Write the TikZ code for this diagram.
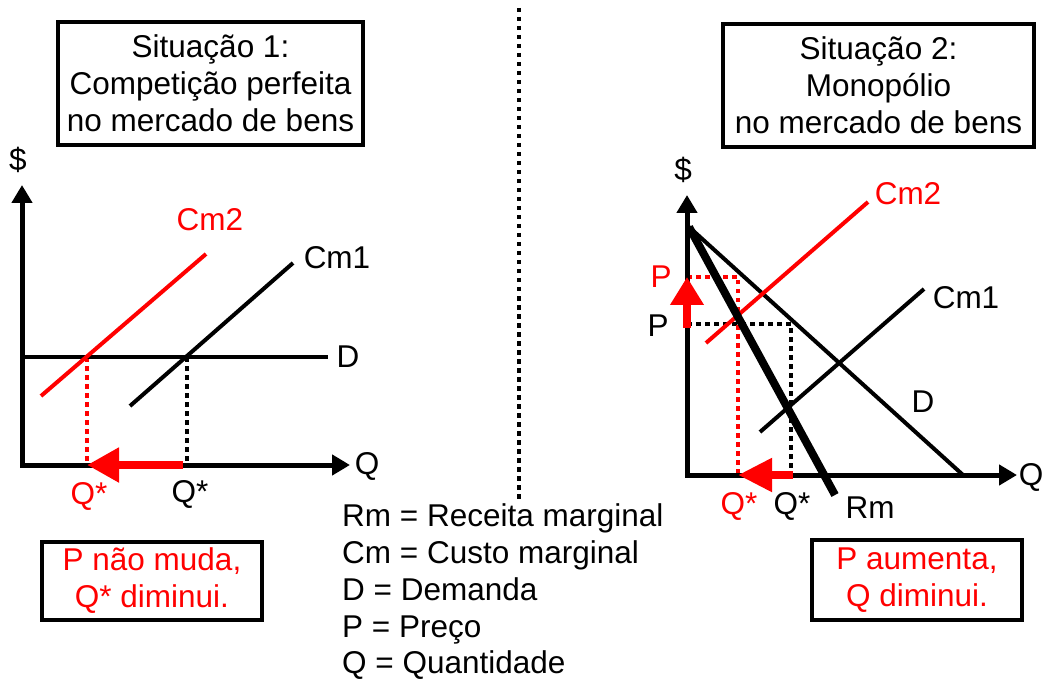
\documentclass[tikz,border=0pt]{standalone}
\usepackage{fontspec}
\setmainfont{Liberation Sans}
\usetikzlibrary{arrows.meta}
\begin{document}
\begin{tikzpicture}[x=1pt,y=-1pt,
  every node/.style={font=\fontsize{31.5}{37}\selectfont, inner sep=0pt},
  axis/.style={line width=5pt, line join=miter,
    {Triangle[length=18pt,width=20pt]}-{Triangle[length=18pt,width=20pt]}},
  curve/.style={line width=4pt},
  thickcurve/.style={line width=8pt},
  dotblack/.style={line width=4pt, dash pattern=on 4.5pt off 4.5pt},
  dotred/.style={line width=4pt, dash pattern=on 4.5pt off 4.5pt, red},
  shiftarrow/.style={red, line width=8pt, -{Triangle[length=32pt,width=33pt]}},
  framebox/.style={draw, line width=3.5pt, align=center},
  lbl/.style={anchor=center},
  legend/.style={anchor=base west}
]
\useasboundingbox (0,0) rectangle (1043,684);

% ---------- titles ----------
\node[framebox, minimum width=305pt, minimum height=123pt] (t1) at (210.5,83.5)
  {Situação 1:\\Competição perfeita\\no mercado de bens};
\node[framebox, minimum width=311pt, minimum height=123pt] (t2) at (878.5,85.5)
  {Situação 2:\\Monopólio\\no mercado de bens};

% ---------- center divider ----------
\coordinate (divtop) at (519,8);
\coordinate (divbot) at (519,500);
\draw[dotblack] (divtop) -- (divbot);

% ---------- left graph ----------
\coordinate (LO) at (22,465);
\coordinate (LY) at (22,185);
\coordinate (LX) at (350,465);
\coordinate (LD1) at (22,357);
\coordinate (LD2) at (328,357);
\coordinate (LC2a) at (41,396);
\coordinate (LC2b) at (206,254);
\coordinate (LC1a) at (130,406);
\coordinate (LC1b) at (293,263);
\coordinate (LE2) at (87,357);
\coordinate (LQ2) at (87,465);
\coordinate (LE1) at (187,357);
\coordinate (LQ1) at (187,465);
\coordinate (LArrS) at (183,465);

\draw[dotred] (LE2) -- (LQ2);
\draw[dotblack] (LE1) -- (LQ1);
\draw[curve] (LD1) -- (LD2);
\draw[curve, red] (LC2a) -- (LC2b);
\draw[curve] (LC1a) -- (LC1b);
\draw[axis] (LY) -- (LO) -- (LX);
\draw[shiftarrow] (LArrS) -- (LQ2);

\node[lbl] (ldollar) at (18,160) {\$};
\node[lbl, red] (lcm2) at (210,220) {Cm2};
\node[lbl] (lcm1) at (337,258) {Cm1};
\node[lbl] (ld) at (348,357) {D};
\node[lbl] (lq) at (367,466) {Q};
\node[lbl, red] (lqs2) at (89,496) {Q*};
\node[lbl] (lqs1) at (190,494) {Q*};

% ---------- right graph ----------
\coordinate (RO) at (687,475);
\coordinate (RY) at (687,195);
\coordinate (RX) at (1017,475);
\coordinate (RTop) at (689,227);
\coordinate (RDend) at (963,475);
\coordinate (RRmend) at (835,495);
\coordinate (RC2a) at (706,343);
\coordinate (RC2b) at (868,202);
\coordinate (RC1a) at (760,432);
\coordinate (RC1b) at (924,289);
\coordinate (RP1) at (687,324);
\coordinate (RP1c) at (791,324);
\coordinate (RQ1) at (791,475);
\coordinate (RP2) at (687,277);
\coordinate (RP2c) at (738,277);
\coordinate (RQ2) at (738,475);
\coordinate (RUpS) at (687,328);
\coordinate (RLeftS) at (793,475);

\draw[dotblack] (RP1) -- (RP1c) -- (RQ1);
\draw[dotred] (RP2) -- (RP2c) -- (RQ2);
\draw[curve] (RTop) -- (RDend);
\draw[curve, red] (RC2a) -- (RC2b);
\draw[curve] (RC1a) -- (RC1b);
\draw[thickcurve] (RTop) -- (RRmend);
\draw[axis] (RY) -- (RO) -- (RX);
\draw[shiftarrow, -{Triangle[length=28pt,width=32pt]}] (RUpS) -- (RP2);
\draw[shiftarrow, -{Triangle[length=34pt,width=32pt]}] (RLeftS) -- (RQ2);

\node[lbl] (rdollar) at (683,170) {\$};
\node[lbl, red] (rcm2) at (908,194) {Cm2};
\node[lbl] (rcm1) at (966,298) {Cm1};
\node[lbl] (rd) at (923,402) {D};
\node[lbl] (rq) at (1031,477) {Q};
\node[lbl] (rrm) at (870,508) {Rm};
\node[lbl, red] (rqs2) at (739,506) {Q*};
\node[lbl] (rqs1) at (792,506) {Q*};
\node[lbl, red] (rp2) at (661,277) {P};
\node[lbl] (rp1) at (658,326) {P};

% ---------- legend ----------
\node[legend] (leg1) at (342,526) {Rm = Receita marginal};
\node[legend] (leg2) at (342,563) {Cm = Custo marginal};
\node[legend] (leg3) at (342,600) {D = Demanda};
\node[legend] (leg4) at (342,637) {P = Preço};
\node[legend] (leg5) at (342,673) {Q = Quantidade};

% ---------- conclusion boxes ----------
\node[framebox, text=red, minimum width=220pt, minimum height=78pt] (c1) at (152,581)
  {P não muda,\\Q* diminui.};
\node[framebox, text=red, minimum width=210pt, minimum height=80pt] (c2) at (917,580)
  {P aumenta,\\Q diminui.};
\end{tikzpicture}
\end{document}
